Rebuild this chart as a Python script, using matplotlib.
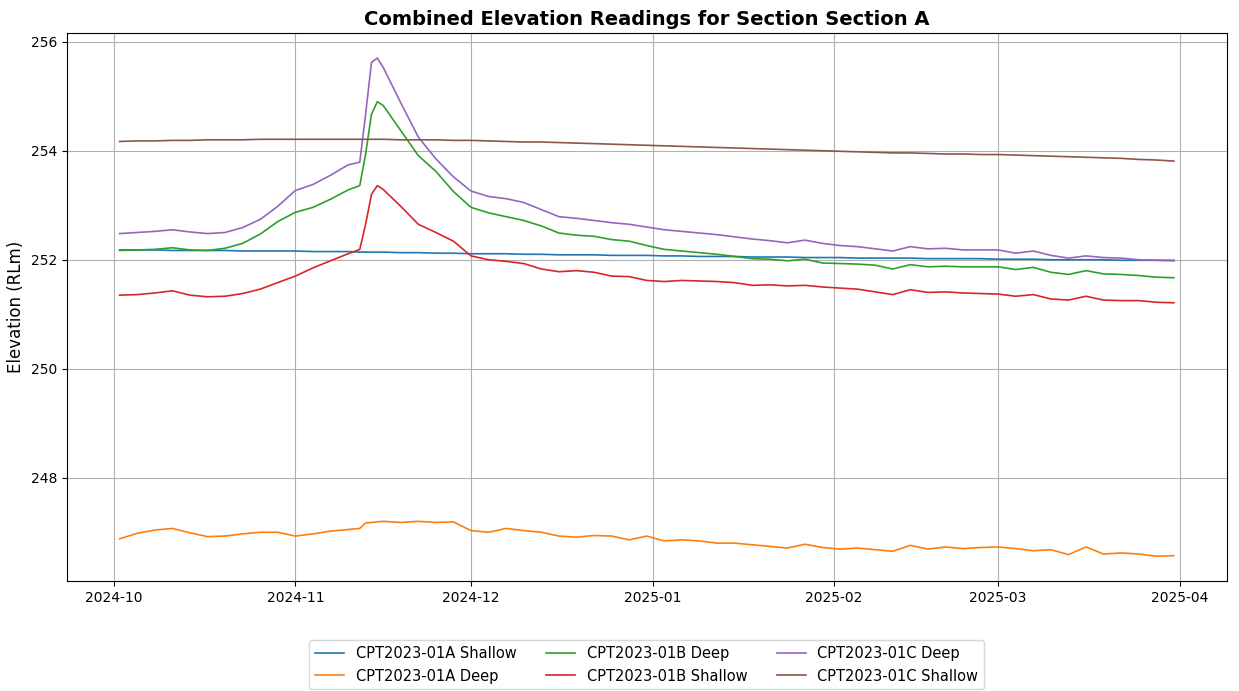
# Combined elevation readings, Section A
import matplotlib
matplotlib.use("Agg")
import matplotlib.pyplot as plt
import matplotlib.dates as mdates
import pandas as pd

dates = pd.to_datetime([
    "2024-10-02", "2024-10-05", "2024-10-08", "2024-10-11", "2024-10-14",
    "2024-10-17", "2024-10-20", "2024-10-23", "2024-10-26", "2024-10-29",
    "2024-11-01", "2024-11-04", "2024-11-07", "2024-11-10", "2024-11-12",
    "2024-11-13", "2024-11-14", "2024-11-15", "2024-11-16", "2024-11-19",
    "2024-11-22", "2024-11-25", "2024-11-28",
    "2024-12-01", "2024-12-04", "2024-12-07", "2024-12-10", "2024-12-13",
    "2024-12-16", "2024-12-19", "2024-12-22", "2024-12-25", "2024-12-28",
    "2024-12-31",
    "2025-01-03", "2025-01-06", "2025-01-09", "2025-01-12", "2025-01-15",
    "2025-01-18", "2025-01-21", "2025-01-24", "2025-01-27", "2025-01-30",
    "2025-02-02", "2025-02-05", "2025-02-08", "2025-02-11", "2025-02-14",
    "2025-02-17", "2025-02-20", "2025-02-23", "2025-02-26",
    "2025-03-01", "2025-03-04", "2025-03-07", "2025-03-10", "2025-03-13",
    "2025-03-16", "2025-03-19", "2025-03-22", "2025-03-25", "2025-03-28",
    "2025-03-31",
])

a_shallow = [
    252.18, 252.18, 252.18, 252.17, 252.17, 252.17, 252.17, 252.16, 252.16, 252.16,
    252.16, 252.15, 252.15, 252.15, 252.14, 252.14, 252.14, 252.14, 252.14, 252.13,
    252.13, 252.12, 252.12,
    252.11, 252.11, 252.11, 252.10, 252.10, 252.09, 252.09, 252.09, 252.08, 252.08, 252.08,
    252.07, 252.07, 252.06, 252.06, 252.06, 252.05, 252.05, 252.05, 252.04, 252.04,
    252.04, 252.03, 252.03, 252.03, 252.03, 252.02, 252.02, 252.02, 252.02,
    252.01, 252.01, 252.01, 252.00, 252.00, 252.00, 252.00, 251.99, 251.99, 251.99, 251.99,
]
a_deep = [
    246.88, 246.98, 247.04, 247.07, 246.99, 246.92, 246.93, 246.97, 247.00, 247.00,
    246.93, 246.97, 247.02, 247.05, 247.07, 247.17, 247.18, 247.19, 247.20, 247.18,
    247.20, 247.18, 247.19,
    247.03, 247.00, 247.07, 247.03, 247.00, 246.93, 246.91, 246.94, 246.93, 246.86, 246.93,
    246.84, 246.86, 246.84, 246.80, 246.80, 246.77, 246.74, 246.71, 246.78, 246.72,
    246.69, 246.71, 246.68, 246.65, 246.76, 246.69, 246.73, 246.70, 246.72,
    246.73, 246.70, 246.66, 246.68, 246.59, 246.73, 246.60, 246.62, 246.60, 246.56, 246.57,
]
b_deep = [
    252.17, 252.18, 252.19, 252.22, 252.18, 252.17, 252.21, 252.30, 252.47, 252.70,
    252.87, 252.96, 253.11, 253.28, 253.36, 253.94, 254.67, 254.90, 254.83, 254.37,
    253.91, 253.62, 253.25,
    252.96, 252.86, 252.79, 252.72, 252.62, 252.49, 252.45, 252.43, 252.37, 252.34, 252.26,
    252.19, 252.16, 252.13, 252.10, 252.06, 252.02, 252.01, 251.98, 252.01, 251.94,
    251.93, 251.92, 251.90, 251.83, 251.91, 251.87, 251.88, 251.87, 251.87,
    251.87, 251.82, 251.86, 251.77, 251.73, 251.80, 251.74, 251.73, 251.71, 251.68, 251.67,
]
b_shallow = [
    251.35, 251.36, 251.39, 251.43, 251.35, 251.32, 251.33, 251.38, 251.46, 251.58,
    251.70, 251.85, 251.98, 252.11, 252.19, 252.65, 253.20, 253.36, 253.29, 252.98,
    252.65, 252.50, 252.34,
    252.07, 252.00, 251.97, 251.93, 251.83, 251.78, 251.80, 251.77, 251.70, 251.69, 251.62,
    251.60, 251.62, 251.61, 251.60, 251.58, 251.53, 251.54, 251.52, 251.53, 251.50,
    251.48, 251.46, 251.41, 251.36, 251.45, 251.40, 251.41, 251.39, 251.38,
    251.37, 251.33, 251.36, 251.28, 251.26, 251.33, 251.26, 251.25, 251.25, 251.22, 251.21,
]
c_deep = [
    252.48, 252.50, 252.52, 252.55, 252.51, 252.48, 252.50, 252.59, 252.74, 252.98,
    253.27, 253.38, 253.55, 253.74, 253.79, 254.67, 255.62, 255.70, 255.53, 254.88,
    254.25, 253.85, 253.52,
    253.26, 253.16, 253.12, 253.05, 252.92, 252.79, 252.76, 252.72, 252.68, 252.65, 252.60,
    252.55, 252.52, 252.49, 252.46, 252.42, 252.38, 252.35, 252.31, 252.36, 252.30,
    252.26, 252.24, 252.20, 252.16, 252.24, 252.20, 252.21, 252.18, 252.18,
    252.18, 252.12, 252.16, 252.08, 252.03, 252.07, 252.04, 252.03, 252.00, 251.99, 251.98,
]
c_shallow = [
    254.17, 254.18, 254.18, 254.19, 254.19, 254.20, 254.20, 254.20, 254.21, 254.21,
    254.21, 254.21, 254.21, 254.21, 254.21, 254.21, 254.21, 254.21, 254.21, 254.20,
    254.20, 254.20, 254.19,
    254.19, 254.18, 254.17, 254.16, 254.16, 254.15, 254.14, 254.13, 254.12, 254.11, 254.10,
    254.09, 254.08, 254.07, 254.06, 254.05, 254.04, 254.03, 254.02, 254.01, 254.00,
    253.99, 253.98, 253.97, 253.96, 253.96, 253.95, 253.94, 253.94, 253.93,
    253.93, 253.92, 253.91, 253.90, 253.89, 253.88, 253.87, 253.86, 253.84, 253.83, 253.81,
]

labels = ["CPT2023-01A Shallow", "CPT2023-01A Deep", "CPT2023-01B Deep",
          "CPT2023-01B Shallow", "CPT2023-01C Deep", "CPT2023-01C Shallow"]
series = [a_shallow, a_deep, b_deep, b_shallow, c_deep, c_shallow]

fig = plt.figure(figsize=(12.39, 6.91), dpi=100)
ax = fig.add_axes([0.054, 0.159, 0.936, 0.793])

for lab, vals in zip(labels, series):
    ax.plot(dates, vals, label=lab, linewidth=1.2)

ax.set_title("Combined Elevation Readings for Section Section A",
             fontsize=14, fontweight="bold")
ax.set_ylabel("Elevation (RLm)", fontsize=12)
ax.xaxis.set_major_locator(mdates.MonthLocator())
ax.xaxis.set_major_formatter(mdates.DateFormatter("%Y-%m"))
ax.tick_params(labelsize=10)
ax.grid(True)

ax.legend(loc="upper center", bbox_to_anchor=(0.5, -0.095), ncol=3,
          fontsize=10.5)

fig.savefig("out.png", dpi=100)
